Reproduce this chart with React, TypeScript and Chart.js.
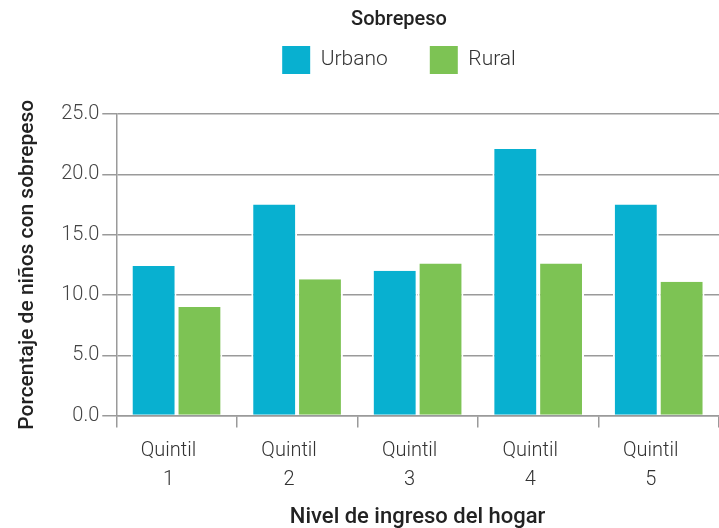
import React, { useEffect, useRef } from "react";
import { Chart, registerables } from "chart.js";

Chart.register(...registerables);

const categories: string[][] = [
  ["Quintil", "1"],
  ["Quintil", "2"],
  ["Quintil", "3"],
  ["Quintil", "4"],
  ["Quintil", "5"],
];
const urbano: number[] = [12.4, 17.5, 12.0, 22.1, 17.5];
const rural: number[] = [9.0, 11.3, 12.6, 12.6, 11.1];
const seriesNames = ["Urbano", "Rural"];
const legendTitle = "Sobrepeso";
const yTitle = "Porcentaje de niños con sobrepeso";
const xTitle = "Nivel de ingreso del hogar";

const FONT = "Roboto, 'DejaVu Sans', sans-serif";

const legendTweak = {
  id: "legendTweak",
  beforeInit(chart: any) {
    const legend = chart.legend;
    if (!legend) return;
    const origFit = legend.fit;
    legend.fit = function () {
      origFit.call(this);
      this.height += 30;
    };
  },
  afterLayout(chart: any) {
    const legend = chart.legend;
    if (!legend) return;
    legend.left += 32;
    legend.right += 32;
  },
};

export default function App() {
  const ref = useRef<HTMLCanvasElement | null>(null);

  useEffect(() => {
    if (!ref.current) return;
    const barBorder = { top: 0, bottom: 0, left: 2, right: 2 };
    const chart = new Chart(ref.current, {
      type: "bar",
      data: {
        labels: categories,
        datasets: [
          {
            label: seriesNames[0],
            data: urbano,
            backgroundColor: "#08b0d0",
            borderColor: "#ffffff",
            borderWidth: barBorder,
            borderSkipped: false,
            categoryPercentage: 0.76,
            barPercentage: 1.0,
          },
          {
            label: seriesNames[1],
            data: rural,
            backgroundColor: "#7dc354",
            borderColor: "#ffffff",
            borderWidth: barBorder,
            borderSkipped: false,
            categoryPercentage: 0.76,
            barPercentage: 1.0,
          },
        ],
      },
      plugins: [legendTweak],
      options: {
        responsive: false,
        animation: false,
        layout: { padding: { top: 4, right: 0, left: 15, bottom: 0 } },
        plugins: {
          tooltip: { enabled: false },
          legend: {
            display: true,
            position: "top",
            title: {
              display: true,
              text: legendTitle,
              color: "#222",
              font: { family: FONT, size: 20, weight: "500" },
              padding: { top: 6, bottom: -30 },
            },
            labels: {
              boxWidth: 28,
              boxHeight: 28,
              padding: 42,
              color: "#333",
              font: { family: FONT, size: 21, weight: "300" },
              generateLabels: (c: any) =>
                c.data.datasets.map((ds: any, i: number) => ({
                  text: ds.label,
                  fillStyle: ds.backgroundColor,
                  strokeStyle: ds.backgroundColor,
                  lineWidth: 0,
                  fontColor: "#333",
                  hidden: false,
                  datasetIndex: i,
                })),
            },
          },
        },
        scales: {
          x: {
            grid: {
              display: true,
              drawOnChartArea: false,
              drawTicks: true,
              tickLength: 12,
              color: "#9a9a9a",
              lineWidth: 1.5,
              offset: true,
            },
            border: { display: true, color: "#9a9a9a", width: 1.5 },
            ticks: {
              color: "#333",
              font: { family: FONT, size: 20, weight: "300", lineHeight: 1.45 },
              padding: 9,
              maxRotation: 0,
              labelOffset: -8,
            },
            title: {
              display: true,
              text: xTitle,
              color: "#222",
              font: { family: FONT, size: 22, weight: "500" },
              padding: { top: 1, bottom: -3 },
            },
          },
          y: {
            min: 0,
            max: 25,
            grid: {
              display: true,
              drawOnChartArea: true,
              drawTicks: true,
              tickLength: 14,
              color: "#9a9a9a",
              lineWidth: 1.5,
            },
            border: { display: true, color: "#9a9a9a", width: 1.5 },
            ticks: {
              stepSize: 5,
              color: "#444",
              font: { family: FONT, size: 20, weight: "300" },
              padding: 3,
              callback: (v: any) => Number(v).toFixed(1),
            },
            title: {
              display: true,
              text: yTitle,
              color: "#222",
              font: { family: FONT, size: 21, weight: "500" },
              padding: { top: 0, bottom: 18 },
            },
          },
        },
      },
    });
    return () => chart.destroy();
  }, []);

  return (
    <div style={{ position: "fixed", left: 0, top: 0, width: 719, height: 528, background: "#fff" }}>
      <canvas ref={ref} width={719} height={528} style={{ display: "block" }} />
    </div>
  );
}
